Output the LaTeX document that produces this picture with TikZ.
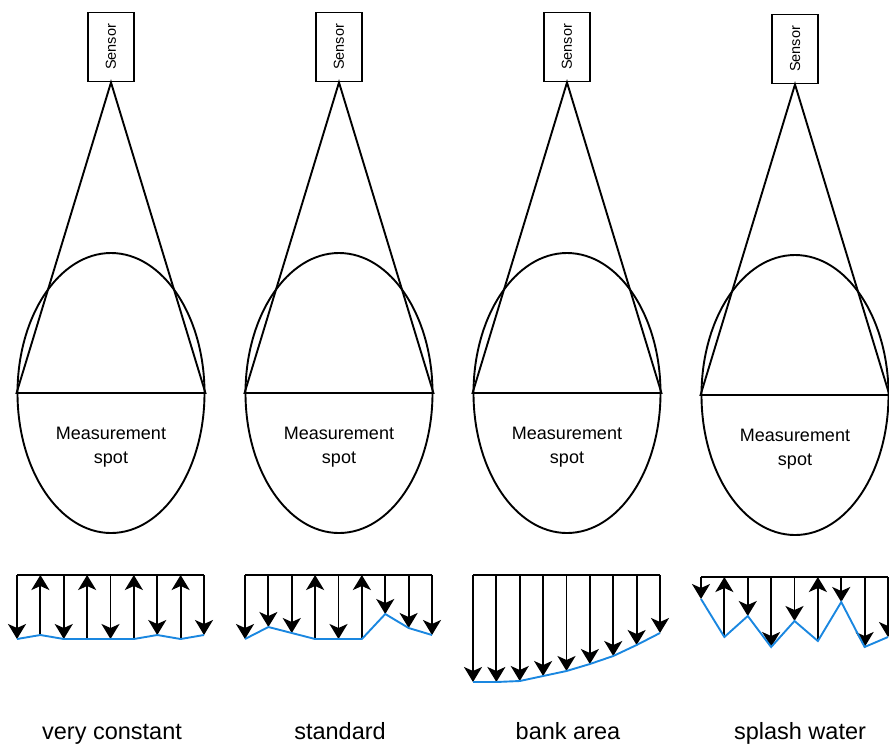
\documentclass[tikz,border=0pt]{standalone}
\usepackage{fontspec}
\setmainfont{Liberation Sans}
\usepackage{graphicx}
\usetikzlibrary{arrows.meta, shapes.geometric}

\definecolor{bedblue}{HTML}{1A87E0}

\tikzset{
  sensorbox/.style={draw, line width=1.9pt, minimum width=46pt, minimum height=69pt,
    inner sep=0pt, font=\fontsize{14.5}{17}\selectfont},
  spotellipse/.style={draw, ellipse, line width=1.9pt, minimum width=187pt,
    minimum height=280pt, inner sep=0pt},
  spottext/.style={align=center, font=\fontsize{18}{24}\selectfont},
  beam/.style={line width=1.9pt},
  topline/.style={line width=1.9pt},
  bed/.style={line width=1.9pt, bedblue},
  flowdn/.style={line width=1.9pt, -{Stealth[length=15pt, width=18pt, inset=4pt]}},
  flowup/.style={line width=1.9pt, {Stealth[length=15pt, width=18pt, inset=4pt]}-},
  caption/.style={anchor=base, font=\fontsize{23.5}{28}\selectfont}
}

\begin{document}
\begin{tikzpicture}[x=1pt, y=-1pt]
  \useasboundingbox (0,0) rectangle (889,745);

  % sensors and measurement spots
  \foreach \c/\d/\n in {111/0/1, 339/0/2, 567/0/3, 795/2/4} {
    \node[sensorbox] (sensor\n) at (\c, 47+\d) {\rotatebox{90}{Sensor}};
    \node[spotellipse] (spot\n) at (\c, 393+\d) {};
    \draw[beam] (spot\n.west) -- (sensor\n.south) -- (spot\n.east) -- cycle;
    \node[spottext] (spottext\n) at (\c, 447+\d) {Measurement\\spot};
  }

  % very constant
  \foreach \y/\dir [count=\i from 0] in {639/dn,635/up,639/dn,639/up,639/dn,639/up,635/dn,639/up,635/dn} {
    \coordinate (vt\i) at (17+23.375*\i, 575);
    \coordinate (vb\i) at (17+23.375*\i, \y);
    \draw[flow\dir] (vt\i) -- (vb\i);
  }
  \draw[topline] (vt0) -- (vt8);
  \draw[bed] (vb0) \foreach \i in {1,...,8} {-- (vb\i)};

  % standard
  \foreach \y/\dir [count=\i from 0] in {639/dn,627/dn,633/dn,639/up,639/dn,639/up,614/dn,628/dn,635/dn} {
    \coordinate (st\i) at (245+23.375*\i, 575);
    \coordinate (sb\i) at (245+23.375*\i, \y);
    \draw[flow\dir] (st\i) -- (sb\i);
  }
  \draw[topline] (st0) -- (st8);
  \draw[bed] (sb0) \foreach \i in {1,...,8} {-- (sb\i)};

  % bank area
  \foreach \y/\dir [count=\i from 0] in {682/dn,682/dn,681/dn,676/dn,671/dn,664/dn,656/dn,645/dn,633/dn} {
    \coordinate (bt\i) at (473+23.375*\i, 575);
    \coordinate (bb\i) at (473+23.375*\i, \y);
    \draw[flow\dir] (bt\i) -- (bb\i);
  }
  \draw[topline] (bt0) -- (bt8);
  \draw[bed] (bb0) \foreach \i in {1,...,8} {-- (bb\i)};

  % splash water
  \foreach \y/\dir [count=\i from 0] in {599/dn,637/up,616/dn,647/dn,621/dn,641/up,602/dn,647/dn,637/dn} {
    \coordinate (wt\i) at (701+23.375*\i, 577);
    \coordinate (wb\i) at (701+23.375*\i, \y);
    \draw[flow\dir] (wt\i) -- (wb\i);
  }
  \draw[topline] (wt0) -- (wt8);
  \draw[bed] (wb0) \foreach \i in {1,...,8} {-- (wb\i)};

  % captions
  \node[caption] (capvc) at (112,739) {very constant};
  \node[caption] (capst) at (340,739) {standard};
  \node[caption] (capba) at (568,739) {bank area};
  \node[caption] (capsw) at (800,739) {splash water};
\end{tikzpicture}
\end{document}
